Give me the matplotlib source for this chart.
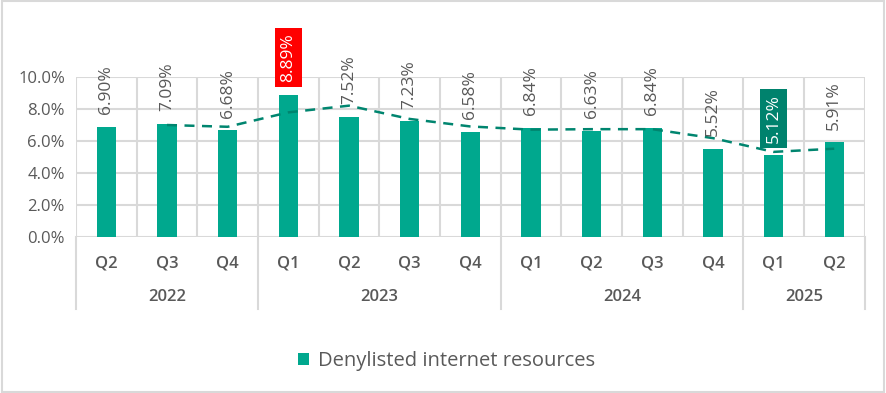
import matplotlib.pyplot as plt
import numpy as np
from matplotlib.transforms import blended_transform_factory

plt.rcParams['font.family'] = ['Open Sans', 'DejaVu Sans']

quarters = ["Q2", "Q3", "Q4", "Q1", "Q2", "Q3", "Q4", "Q1", "Q2", "Q3", "Q4", "Q1", "Q2"]
years = ["2022", "2023", "2024", "2025"]
year_counts = [3, 4, 4, 2]
values = [6.90, 7.09, 6.68, 8.89, 7.52, 7.23, 6.58, 6.84, 6.63, 6.84, 5.52, 5.12, 5.91]
# trend line (2-period moving average), starting at 2nd bar
trend = [7.00, 6.89, 7.79, 8.21, 7.38, 6.91, 6.71, 6.74, 6.74, 6.18, 5.32, 5.52]
highlight = {3: "#FF0000", 11: "#00826D"}

bar_color = "#00A88E"
grid_color = "#D9D9D9"
text_color = "#595959"

fig = plt.figure(figsize=(8.86, 3.93), dpi=100)
ax = fig.add_axes([0.0858, 0.397, 0.890, 0.407])

x = np.arange(len(values))
ax.bar(x, values, width=0.32, color=bar_color, zorder=3, label="Denylisted internet resources")
ax.plot(x[1:], trend, ls=(0, (4, 3)), color="#00856F", lw=1.8, zorder=4)

ax.set_xlim(-0.5, len(values) - 0.5)
ax.set_ylim(0, 10)
ax.set_yticks(np.arange(0, 10.1, 2))
ax.set_yticklabels([f"{v:.1f}%" for v in np.arange(0, 10.1, 2)], fontsize=12, color=text_color)
ax.tick_params(axis="y", length=0, pad=8)

# grid
for yv in np.arange(0, 10.1, 2):
    ax.axhline(yv, color=grid_color, lw=1.5, zorder=1)
for b in np.arange(-0.5, len(values), 1.0):
    ax.axvline(b, color=grid_color, lw=1.5, zorder=1)
for s in ax.spines.values():
    s.set_visible(False)

# quarter labels
ax.set_xticks(x)
ax.set_xticklabels(quarters, fontsize=12, fontweight="semibold", color=text_color)
ax.tick_params(axis="x", length=0, pad=13)

# year labels and separators
tr = blended_transform_factory(ax.transData, ax.transAxes)
start = 0
bounds = [-0.5]
for yr, n in zip(years, year_counts):
    center = start + (n - 1) / 2
    ax.text(center, -0.375, yr, transform=tr, ha="center", va="center",
            fontsize=12, fontweight="semibold", color=text_color)
    start += n
    bounds.append(start - 0.5)
for b in bounds:
    ax.plot([b, b], [0, -0.45], transform=tr, color=grid_color, lw=1.5, clip_on=False)

# value labels
for i, v in enumerate(values):
    if i in highlight:
        ax.annotate(f"{v:.2f}%", (i, v), xytext=(0, 9), textcoords="offset points",
                    rotation=90, ha="center", va="bottom", fontsize=12.5, color="white",
                    bbox=dict(boxstyle="square,pad=0.3", fc=highlight[i], ec="none"), zorder=5)
    else:
        ax.annotate(f"{v:.2f}%", (i, v), xytext=(0, 9), textcoords="offset points",
                    rotation=90, ha="center", va="bottom", fontsize=12.5, color=text_color, zorder=5)

fig.legend(loc="center", bbox_to_anchor=(0.504, 0.081), frameon=False, fontsize=14.5,
           handlelength=0.55, handleheight=0.55, handletextpad=0.4, labelcolor=text_color)

# outer border
fig.patches.append(plt.Rectangle((0.002, 0.003), 0.996, 0.994, transform=fig.transFigure,
                                 fill=False, ec=grid_color, lw=1.5))

fig.savefig("out.png", dpi=100)
